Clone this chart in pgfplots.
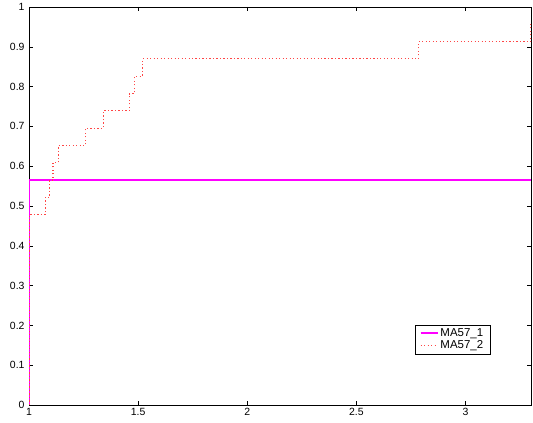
\documentclass[border=0pt]{standalone}
\usepackage{fontspec}
\setmainfont{Liberation Sans}
\usepackage{pgfplots}
\pgfplotsset{compat=1.18}
\definecolor{mag}{RGB}{255,0,255}
\definecolor{dotred}{RGB}{255,70,70}

\begin{document}
\begin{tikzpicture}
\begin{axis}[
  scale only axis,
  width=502bp, height=398bp,
  xmin=1, xmax=3.3, ymin=0, ymax=1,
  xtick={1,1.5,2,2.5,3},
  ytick={0,0.1,0.2,0.3,0.4,0.5,0.6,0.7,0.8,0.9,1},
  xticklabels={1,1.5,2,2.5,3},
  yticklabels={0,0.1,0.2,0.3,0.4,0.5,0.6,0.7,0.8,0.9,1},
  tick align=inside,
  major tick length=4bp,
  tick style={black, line width=0.5pt},
  axis line style={black, line width=0.9pt},
  tick label style={font=\fontsize{10.5}{12}\selectfont},
  yticklabel style={xshift=-1bp},
  /pgf/number format/assume math mode=true,
  legend style={at={(0.919,0.128)}, anchor=south east, draw=black,
    font=\fontsize{11.5}{12}\selectfont, inner xsep=5pt, inner ysep=1.5pt, row sep=-1pt,
    /tikz/every even column/.append style={column sep=4pt}},
  legend cell align=left,
]
\addplot[draw=mag, line width=1.6pt, mark=none] coordinates {
  (1,0) (1,0.5652) (3.3,0.5652)
};
\addlegendentry{MA57\_1}
\addplot[draw=dotred, line width=1.2pt, dash pattern=on 1.2pt off 2.3pt, mark=none, const plot] coordinates {
  (1,0) (1,0.4783) (1.075,0.5217) (1.095,0.5652) (1.11,0.6087) (1.135,0.6522)
  (1.26,0.6957) (1.34,0.7391) (1.46,0.7826) (1.485,0.8261) (1.52,0.8696)
  (2.785,0.9130) (3.3,0.9565) (3.3,0.9565)
};
\addlegendentry{MA57\_2}
\end{axis}
\pgfresetboundingbox
\path ([shift={(-29bp,-18bp)}]current axis.south west) rectangle ([shift={(2bp,7bp)}]current axis.north east);
\end{tikzpicture}
\end{document}
